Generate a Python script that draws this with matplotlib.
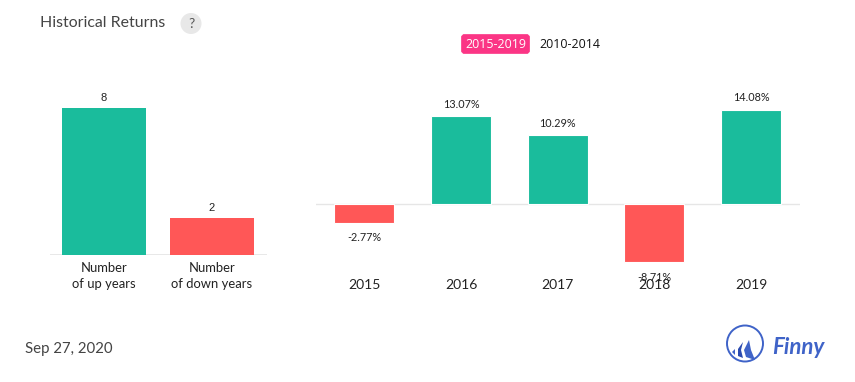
import matplotlib
matplotlib.use("Agg")
import matplotlib.pyplot as plt
from matplotlib.patches import Circle, FancyBboxPatch, Polygon

plt.rcParams['font.family'] = ['Lato', 'DejaVu Sans']

count_labels = ["Number\nof up years", "Number\nof down years"]
count_values = [8, 2]
years = ["2015", "2016", "2017", "2018", "2019"]
returns = [-2.77, 13.07, 10.29, -8.71, 14.08]
return_labels = ["-2.77%", "13.07%", "10.29%", "-8.71%", "14.08%"]

GREEN = "#1abc9c"
RED = "#ff5757"
GRID = "#e6e6e6"
W, H = 855, 382
fig = plt.figure(figsize=(W / 100, H / 100), dpi=100)


def axes_px(x0, y0, x1, y1):
    return fig.add_axes([x0 / W, 1 - y1 / H, (x1 - x0) / W, (y1 - y0) / H])


def clean(ax):
    for s in ax.spines.values():
        s.set_visible(False)
    ax.patch.set_alpha(0)
    ax.tick_params(length=0)
    ax.set_yticks([])


# left chart: pixel box x 50-267, baseline y=255
axl = axes_px(50, 90, 267, 255)
clean(axl)
xl = list(range(len(count_values)))
axl.bar(xl, count_values, width=84 / 108, color=[GREEN, RED], zorder=3)
axl.axhline(0, color=GRID, lw=1.3, zorder=2)
axl.set_xlim(-0.5, 1.509)
axl.set_ylim(0, 165 / 18.32)
axl.set_xticks(xl)
axl.set_xticklabels(count_labels, fontsize=9.4, color="#222222", linespacing=1.38)
axl.tick_params(axis='x', pad=5.2)
for x, v in zip(xl, count_values):
    axl.annotate(str(v), (x, v), xytext=(0, 4), textcoords="offset points",
                 ha="center", va="bottom", fontsize=8, color="#222222",
                 family=["Liberation Sans", "DejaVu Sans"])

# right chart: pixel box x 316-799.5, zero at y=204
axr = axes_px(316, 89, 799.5, 269)
clean(axr)
xr = list(range(len(returns)))
axr.axhline(0, color=GRID, lw=1.0, zorder=2)
axr.bar(xr, returns, width=0.62,
        color=[GREEN if v >= 0 else RED for v in returns],
        edgecolor="white", linewidth=0.8, zorder=3)
axr.set_xlim(-0.5, 4.5)
axr.set_ylim(-65 / 6.7, 115 / 6.7)
axr.set_xticks(xr)
axr.set_xticklabels(years, fontsize=10, color="#222222")
axr.tick_params(axis='x', pad=7.2)
for x, v, s in zip(xr, returns, return_labels):
    axr.annotate(s, (x, v), xytext=(0, 4.5 if v >= 0 else -7), textcoords="offset points",
                 ha="center", va="bottom" if v >= 0 else "top",
                 fontsize=7.8, color="#222222", zorder=5)

# overlay in pixel coordinates for page furniture
ov = fig.add_axes([0, 0, 1, 1], zorder=10)
ov.set_xlim(0, W)
ov.set_ylim(H, 0)
ov.axis("off")
ov.patch.set_alpha(0)
ov.text(40, 23, "Historical Returns", fontsize=11.45, color="#444444", va="center", ha="left")
ov.add_patch(Circle((191, 23.5), 10.5, color="#e8e8e8", lw=0))
ov.text(191, 23.5, "?", fontsize=10, color="#555555", va="center", ha="center")
ov.add_patch(FancyBboxPatch((461.5, 34.5), 68, 19, boxstyle="round,pad=0,rounding_size=3",
                            fc="#fb3585", ec="#fb3585", lw=0.5))
ov.text(496, 44.5, "2015-2019", fontsize=8.9, color="white", va="center", ha="center",
        family=["Open Sans", "DejaVu Sans"])
ov.text(570, 44.5, "2010-2014", fontsize=8.9, color="#111111", va="center", ha="center",
        family=["Open Sans", "DejaVu Sans"])
ov.text(25, 349, "Sep 27, 2020", fontsize=10.85, color="#444444", va="center", ha="left")

# logo
BLUE = "#3f63c8"
ov.add_patch(Circle((745, 343.5), 18, fc="white", ec=BLUE, lw=1.4))
ov.add_patch(Polygon([(749, 340), (751, 350), (755, 360), (746, 357), (744, 350)], fc=BLUE, lw=0))
ov.add_patch(Polygon([(743, 342), (741, 350), (743, 358), (738, 356), (738, 349)], fc="#2a4ab0", lw=0))
ov.add_patch(Polygon([(735, 349), (735, 355), (737, 357), (732, 352)], fc=BLUE, lw=0))
ov.text(772, 348, "Finny", fontsize=16, color=BLUE, style="italic", weight="bold",
        va="center", ha="left")

fig.savefig("out.png", dpi=100)
